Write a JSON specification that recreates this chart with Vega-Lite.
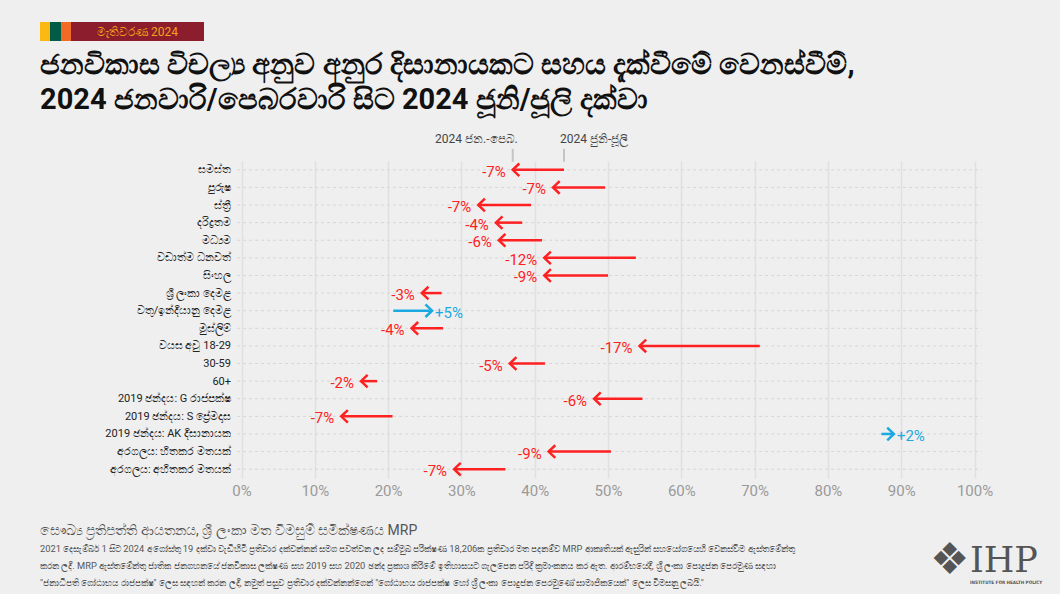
{
  "$schema": "https://vega.github.io/schema/vega-lite/v6.json",
  "background": "#efefef",
  "padding": {"left": 40, "top": 22, "right": 0, "bottom": 0},
  "config": {"font": "Roboto", "view": {"stroke": null}},
  "datasets": {
    "rows": [
      {"group": "සමස්ත", "start": 44.0, "end": 37.0, "label": "-7%", "dir": "down"},
      {"group": "පුරුෂ", "start": 49.6, "end": 42.5, "label": "-7%", "dir": "down"},
      {"group": "ස්ත්\u200dරී", "start": 39.5, "end": 32.3, "label": "-7%", "dir": "down"},
      {"group": "දරිද්\u200dරතම", "start": 38.3, "end": 34.7, "label": "-4%", "dir": "down"},
      {"group": "මධ්\u200dයම", "start": 41.0, "end": 35.1, "label": "-6%", "dir": "down"},
      {"group": "වඩාත්ම ධනවත්", "start": 53.8, "end": 41.3, "label": "-12%", "dir": "down"},
      {"group": "සිංහල", "start": 50.0, "end": 41.3, "label": "-9%", "dir": "down"},
      {"group": "ශ්\u200dරී ලංකා දෙමළ", "start": 27.3, "end": 24.6, "label": "-3%", "dir": "down"},
      {"group": "වතු/ඉන්දියානු දෙමළ", "start": 20.7, "end": 26.0, "label": "+5%", "dir": "up"},
      {"group": "මුස්ලිම්", "start": 27.5, "end": 23.2, "label": "-4%", "dir": "down"},
      {"group": "වයස අවු 18-29", "start": 70.7, "end": 54.3, "label": "-17%", "dir": "down"},
      {"group": "30-59", "start": 41.4, "end": 36.6, "label": "-5%", "dir": "down"},
      {"group": "60+", "start": 18.5, "end": 16.3, "label": "-2%", "dir": "down"},
      {"group": "2019 ඡන්දය: G රාජපක්ෂ", "start": 54.7, "end": 48.1, "label": "-6%", "dir": "down"},
      {"group": "2019 ඡන්දය: S ප්\u200dරේමදාස", "start": 20.6, "end": 13.6, "label": "-7%", "dir": "down"},
      {"group": "2019 ඡන්දය: AK දිසානායක", "start": 87.3, "end": 89.0, "label": "+2%", "dir": "up"},
      {"group": "අරගලය: හිතකර මතයක්", "start": 50.4, "end": 41.9, "label": "-9%", "dir": "down"},
      {"group": "අරගලය: අහිතකර මතයක්", "start": 36.0, "end": 29.0, "label": "-7%", "dir": "down"}
    ],
    "periods": [
      {"period": "2024 ජන.-පෙබ.", "value": 37.0, "side": "left"},
      {"period": "2024 ජුනි-ජූලි", "value": 44.0, "side": "right"}
    ],
    "badge": [{"badge": "මැතිවරණ 2024"}],
    "none": []
  },
  "columns": 1,
  "spacing": 9,
  "concat": [
    {
      "hconcat": [
        {"width": 10, "height": 19, "view": {"fill": "#FDB913", "stroke": null}, "data": {"name": "none"}, "mark": "point", "encoding": {}},
        {"width": 11, "height": 19, "view": {"fill": "#005C44", "stroke": null}, "data": {"name": "none"}, "mark": "point", "encoding": {}},
        {"width": 10, "height": 19, "view": {"fill": "#F26A24", "stroke": null}, "data": {"name": "none"}, "mark": "point", "encoding": {}},
        {"width": 133, "height": 19, "view": {"fill": "#8C1D2C", "stroke": null}, "data": {"name": "badge"},
         "mark": {"type": "text", "color": "#F2A31B", "fontSize": 12},
         "encoding": {"text": {"field": "badge", "type": "nominal"}}}
      ],
      "spacing": 0
    },
    {
      "width": 945,
      "height": 317,
      "title": {
        "text": ["ජනවිකාස විචල්\u200dය අනුව අනුර දිසානායකට සහය දැක්වීමේ වෙනස්වීම්,", "2024 ජනවාරි/පෙබරවාරි සිට 2024 ජූනි/ජූලි දක්වා"],
        "anchor": "start", "frame": "bounds", "fontSize": 29, "fontWeight": "bold", "color": "#111111", "lineHeight": 35, "offset": 18
      },
      "encoding": {
        "y": {
          "field": "group", "type": "nominal",
          "scale": {"type": "point", "padding": 0.5, "domain": ["සමස්ත", "පුරුෂ", "ස්ත්\u200dරී", "දරිද්\u200dරතම", "මධ්\u200dයම", "වඩාත්ම ධනවත්", "සිංහල", "ශ්\u200dරී ලංකා දෙමළ", "වතු/ඉන්දියානු දෙමළ", "මුස්ලිම්", "වයස අවු 18-29", "30-59", "60+", "2019 ඡන්දය: G රාජපක්ෂ", "2019 ඡන්දය: S ප්\u200dරේමදාස", "2019 ඡන්දය: AK දිසානායක", "අරගලය: හිතකර මතයක්", "අරගලය: අහිතකර මතයක්"]},
          "axis": {"title": null, "domain": false, "ticks": false, "grid": false, "offset": -201.5, "labelPadding": 11, "labelFontSize": 11, "labelColor": "#222222"}
        }
      },
      "layer": [
        {
          "data": {"name": "rows"},
          "mark": {"type": "rule", "strokeWidth": 1, "strokeDash": [3, 3], "color": "#d6d6d6"},
          "encoding": {
            "x": {"datum": -0.6, "type": "quantitative", "scale": {"domain": [-27.49, 101.43], "nice": false, "zero": false},
                  "axis": {"title": null, "domain": false, "ticks": false, "values": [0, 10, 20, 30, 40, 50, 60, 70, 80, 90, 100], "labelExpr": "datum.value + '%'", "labelFontSize": 15, "labelColor": "#9a9a9a", "labelPadding": 5, "grid": true, "gridColor": "#e0e0e0", "gridWidth": 1.5, "minExtent": 36}},
            "x2": {"datum": 101}
          }
        },
        {
          "data": {"name": "rows"},
          "mark": {"type": "rule", "strokeWidth": 2.5},
          "encoding": {
            "x": {"field": "start", "type": "quantitative"},
            "x2": {"field": "end"},
            "color": {"field": "dir", "type": "nominal", "scale": {"domain": ["down", "up"], "range": ["#FF2121", "#1CA9E1"]}, "legend": null}
          }
        },
        {
          "data": {"name": "rows"},
          "mark": {"type": "point", "filled": false, "strokeWidth": 2.5, "size": 160, "opacity": 1, "strokeJoin": "miter"},
          "encoding": {
            "x": {"field": "end", "type": "quantitative"},
            "shape": {"field": "dir", "type": "nominal", "scale": {"domain": ["down", "up"], "range": ["M 1.05 -1 L 0 0 L 1.05 1", "M -1.05 -1 L 0 0 L -1.05 1"]}, "legend": null},
            "color": {"field": "dir", "type": "nominal", "legend": null}
          }
        },
        {
          "data": {"name": "rows"},
          "transform": [{"filter": "datum.dir === 'down'"}],
          "mark": {"type": "text", "align": "right", "dx": -7, "dy": 2, "fontSize": 15, "baseline": "middle"},
          "encoding": {
            "x": {"field": "end", "type": "quantitative"},
            "text": {"field": "label", "type": "nominal"},
            "color": {"field": "dir", "type": "nominal", "legend": null}
          }
        },
        {
          "data": {"name": "rows"},
          "transform": [{"filter": "datum.dir === 'up'"}],
          "mark": {"type": "text", "align": "left", "dx": 3, "dy": 2, "fontSize": 15, "baseline": "middle"},
          "encoding": {
            "x": {"field": "end", "type": "quantitative"},
            "text": {"field": "label", "type": "nominal"},
            "color": {"field": "dir", "type": "nominal", "legend": null}
          }
        },
        {
          "data": {"name": "periods"},
          "mark": {"type": "rule", "color": "#c4c4c4", "strokeWidth": 2, "yOffset": -21, "y2Offset": -8},
          "encoding": {
            "x": {"field": "value", "type": "quantitative"},
            "y": {"datum": "සමස්ත", "type": "nominal"},
            "y2": {"datum": "සමස්ත"}
          }
        },
        {
          "data": {"name": "periods"},
          "transform": [{"filter": "datum.side === 'left'"}],
          "mark": {"type": "text", "align": "right", "dx": 5, "dy": -31, "fontSize": 12, "color": "#444444", "baseline": "middle"},
          "encoding": {
            "x": {"field": "value", "type": "quantitative"},
            "y": {"datum": "සමස්ත", "type": "nominal"},
            "text": {"field": "period", "type": "nominal"}
          }
        },
        {
          "data": {"name": "periods"},
          "transform": [{"filter": "datum.side === 'right'"}],
          "mark": {"type": "text", "align": "left", "dx": -4, "dy": -31, "fontSize": 12, "color": "#444444", "baseline": "middle"},
          "encoding": {
            "x": {"field": "value", "type": "quantitative"},
            "y": {"datum": "සමස්ත", "type": "nominal"},
            "text": {"field": "period", "type": "nominal"}
          }
        }
      ]
    },
    {
      "hconcat": [
        {
          "width": 890, "height": 1, "data": {"name": "none"}, "mark": "point", "encoding": {},
          "title": {
            "text": "සෞඛ්\u200dය ප්\u200dරතිපත්ති ආයතනය, ශ්\u200dරී ලංකා මත විමසුම් සමීක්ෂණය MRP",
            "subtitle": [
              "2021 දෙසැම්බර් 1 සිට 2024 අගෝස්තු 19 දක්වා වැඩිහිටි ප්\u200dරතිචාර දක්වන්නන් සමග පවත්වන ලද සම්මුඛ පරීක්ෂණ 18,206ක ප්\u200dරතිචාර මත පදනම්ව MRP ආකෘතියක් ඇසුරින් සහයෝගයෙහි වෙනස්වීම ඇස්තමේන්තු",
              "කරන ලදී. MRP ඇස්තමේන්තු ජාතික ජනගහනයේ ජනවිකාස ලක්ෂණ සහ 2019 සහ 2020 ඡන්ද ප්\u200dරකාශ කිරීමේ ඉතිහාසයට ගැලපෙන පරිදි ක්\u200dරමාංකනය කර ඇත. ආරම්භයේදී, ශ්\u200dරී ලංකා පොදුජන පෙරමුණ සඳහා",
              "\"ජනාධිපති ගෝඨාභය රාජපක්ෂ\" ලෙස සඳහන් කරන ලදී, නමුත් පසුව ප්\u200dරතිචාර දක්වන්නන්ගෙන් \"ගෝඨාභය රාජපක්ෂ හෝ ශ්\u200dරී ලංකා පොදුජන පෙරමුණේ සාමාජිකයෙක්\" ලෙස විමසනු ලබයි.\""
            ],
            "anchor": "start", "frame": "group", "orient": "top", "offset": 5,
            "fontSize": 14, "fontWeight": "normal", "color": "#555555",
            "subtitleFontSize": 9.3, "subtitleColor": "#555555", "subtitleLineHeight": 17, "subtitlePadding": 7
          }
        },
        {
          "width": 37, "height": 1, "data": {"name": "none"}, "mark": "point", "encoding": {},
          "title": {"text": "❖", "font": "DejaVu Sans", "fontSize": 44, "fontWeight": "normal", "color": "#555555", "anchor": "start", "frame": "group", "offset": 10}
        },
        {
          "width": 90, "height": 1, "data": {"name": "none"}, "mark": "point", "encoding": {},
          "title": {"text": "IHP", "subtitle": "INSTITUTE FOR HEALTH POLICY", "font": "DejaVu Serif", "fontSize": 35, "fontWeight": "normal", "color": "#555555", "anchor": "start", "frame": "group", "offset": 8,
                    "subtitleFont": "DejaVu Sans Condensed", "subtitleFontSize": 4.6, "subtitleFontWeight": "bold", "subtitleColor": "#555555", "subtitlePadding": 1}
        }
      ],
      "spacing": 0
    }
  ]
}
